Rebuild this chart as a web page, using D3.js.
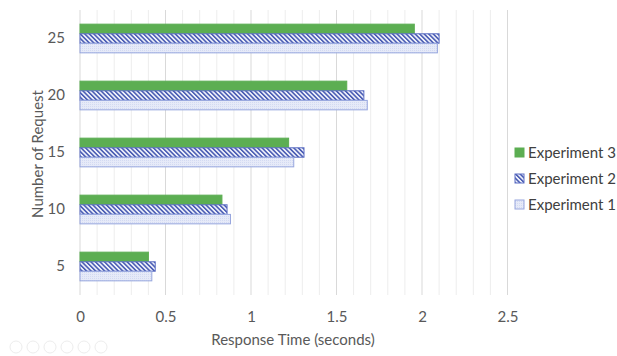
<!DOCTYPE html>
<html>
<head>
<meta charset="utf-8">
<script src="https://cdn.jsdelivr.net/npm/d3@7"></script>
<style>
  html, body { margin: 0; padding: 0; background: #fff; }
  svg { display: block; font-family: Lato, "Open Sans", sans-serif; }
</style>
</head>
<body>
<svg id="chart" width="617" height="356"></svg>
<script>
// Request counts (top to bottom) and response times in seconds
const requests = ["25", "20", "15", "10", "5"];
const experiment3 = [1.955, 1.56, 1.22, 0.83, 0.40];
const experiment2 = [2.10, 1.66, 1.31, 0.86, 0.44];
const experiment1 = [2.09, 1.68, 1.25, 0.88, 0.42];
const seriesNames = ["Experiment 3", "Experiment 2", "Experiment 1"];
const xTicks = [0, 0.5, 1, 1.5, 2, 2.5];

const series = [
  { name: seriesNames[0], values: experiment3, fill: "#5cae52", stroke: "#5cae52" },
  { name: seriesNames[1], values: experiment2, fill: "url(#hatch)", stroke: "#5d6fc4" },
  { name: seriesNames[2], values: experiment1, fill: "url(#dots)", stroke: "#97a6de" }
];

const svg = d3.select("#chart");
const x = d3.scaleLinear().domain([0, 2.5]).range([80, 507.5]);
const y = d3.scaleBand().domain(requests).range([10, 295]).paddingInner(0.49).paddingOuter(0.245);
const yInner = d3.scaleBand().domain(seriesNames).range([0, y.bandwidth()]).padding(0.02);

// Fill patterns
const defs = svg.append("defs");
const hatch = defs.append("pattern").attr("id", "hatch").attr("patternUnits", "userSpaceOnUse")
  .attr("width", 3.2).attr("height", 3.2).attr("patternTransform", "rotate(-45)");
hatch.append("rect").attr("width", 3.2).attr("height", 3.2).attr("fill", "#eef0fa");
hatch.append("rect").attr("width", 1.5).attr("height", 3.2).attr("fill", "#4356b0");
const dots = defs.append("pattern").attr("id", "dots").attr("patternUnits", "userSpaceOnUse")
  .attr("width", 2).attr("height", 2);
dots.append("rect").attr("width", 2).attr("height", 2).attr("fill", "#e6eaf8");
dots.append("rect").attr("width", 1).attr("height", 1).attr("fill", "#d3daf2");

// Gridlines: minor every 0.1, major every 0.5
const minor = d3.range(0, 26).map(d => d / 10);
svg.append("g").selectAll("line").data(minor).join("line")
  .attr("x1", d => x(d)).attr("x2", d => x(d))
  .attr("y1", 10).attr("y2", 295)
  .attr("stroke", (d, i) => i % 5 === 0 ? "#d9d9d9" : "#ededed")
  .attr("stroke-width", 1);

// Bars
const groups = svg.append("g").selectAll("g").data(series).join("g");
groups.each(function (s) {
  d3.select(this).selectAll("rect").data(s.values).join("rect")
    .attr("x", x(0))
    .attr("y", (v, i) => y(requests[i]) + yInner(s.name))
    .attr("width", v => x(v) - x(0))
    .attr("height", yInner.bandwidth())
    .attr("fill", s.fill)
    .attr("stroke", s.stroke)
    .attr("stroke-width", 1);
});

const font = "Lato, 'Open Sans', sans-serif";

// X axis labels
const xAxis = svg.append("g").attr("transform", "translate(0,308)")
  .call(d3.axisBottom(x).tickValues(xTicks).tickSize(0).tickFormat(d3.format("")));
xAxis.select(".domain").remove();
xAxis.selectAll("text").attr("fill", "#595959").attr("font-size", 15).attr("font-family", font);

// Y axis labels
const yAxis = svg.append("g").attr("transform", "translate(65,0)")
  .call(d3.axisLeft(y).tickSize(0).tickPadding(0));
yAxis.select(".domain").remove();
yAxis.selectAll("text").attr("fill", "#595959").attr("font-size", 15).attr("font-family", font);

// Axis titles
svg.append("text").attr("x", 293).attr("y", 345).attr("text-anchor", "middle")
  .attr("fill", "#595959").attr("font-size", 15).text("Response Time (seconds)");
svg.append("text").attr("transform", "translate(43,154) rotate(-90)").attr("text-anchor", "middle")
  .attr("fill", "#595959").attr("font-size", 15).text("Number of Request");

// Legend
const legend = svg.append("g").selectAll("g").data(series).join("g")
  .attr("transform", (d, i) => `translate(515,${153 + i * 26})`);
legend.append("rect").attr("x", 0).attr("y", -5).attr("width", 9).attr("height", 9)
  .attr("fill", d => d.fill).attr("stroke", d => d.stroke);
legend.append("text").attr("x", 13).attr("y", 5).attr("fill", "#404040").attr("font-size", 15)
  .text(d => d.name);

// Faint player controls in the lower-left corner
const icons = svg.append("g").attr("opacity", 0.15);
icons.selectAll("circle").data(d3.range(6)).join("circle")
  .attr("cx", d => 16 + d * 17).attr("cy", 347).attr("r", 6)
  .attr("fill", "none").attr("stroke", "#888").attr("stroke-width", 1);
</script>
</body>
</html>
